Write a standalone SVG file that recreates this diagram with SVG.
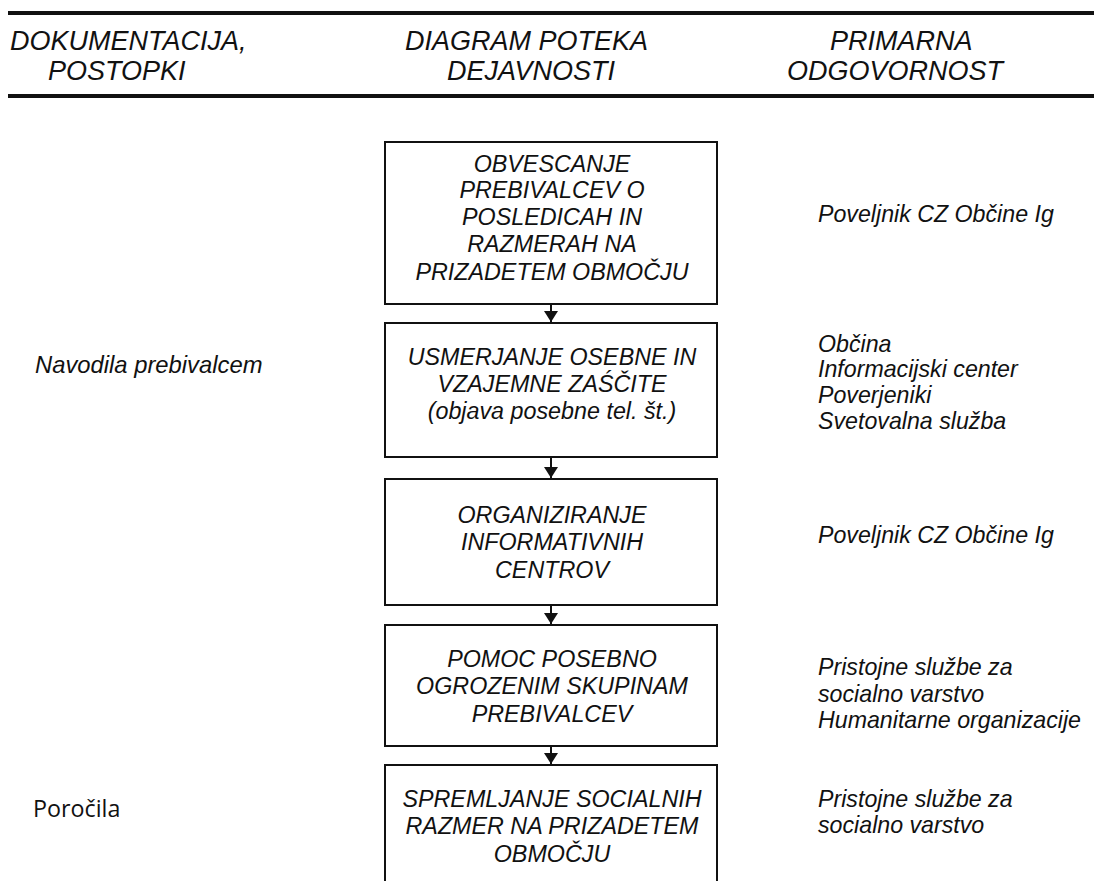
<svg xmlns="http://www.w3.org/2000/svg" width="1094" height="881" viewBox="0 0 1094 881">
  <style>
    .hdr { font-family: "Liberation Sans", Arial, sans-serif; font-style: italic; font-size: 27px; fill: #111; }
    .box { fill: #fff; stroke: #111; stroke-width: 2; }
    .bt { font-family: "Liberation Sans", Arial, sans-serif; font-style: italic; font-size: 23.3px; fill: #111; text-anchor: middle; }
    .side { font-family: "Liberation Sans", Arial, sans-serif; font-style: italic; font-size: 23.2px; fill: #111; }
    .left { font-family: "Liberation Sans", Arial, sans-serif; font-style: italic; font-size: 23.8px; fill: #111; }
    .plain { font-family: "Open Sans", "Liberation Sans", sans-serif; font-size: 23.3px; fill: #111; }
    .conn { stroke: #111; stroke-width: 2; fill: none; }
    .rule { stroke: #111; stroke-width: 4; }
  </style>
  <defs>
    <marker id="arr" markerWidth="12" markerHeight="14" refX="11" refY="7" orient="auto" markerUnits="userSpaceOnUse">
      <path d="M0,0 L11,7 L0,14 Z" fill="#111"/>
    </marker>
  </defs>
  <rect width="1094" height="881" fill="#fff"/>

  <g id="header">
    <line class="rule" x1="8" y1="13" x2="1094" y2="13"/>
    <line class="rule" x1="8" y1="96" x2="1094" y2="96"/>
    <text class="hdr" x="10" y="50">DOKUMENTACIJA,</text>
    <text class="hdr" x="48" y="80">POSTOPKI</text>
    <text class="hdr" x="405" y="50">DIAGRAM POTEKA</text>
    <text class="hdr" x="447" y="80">DEJAVNOSTI</text>
    <text class="hdr" x="830" y="50">PRIMARNA</text>
    <text class="hdr" x="787" y="80">ODGOVORNOST</text>
  </g>

  <g id="connectors">
    <line class="conn" x1="551" y1="305" x2="551" y2="322" marker-end="url(#arr)"/>
    <line class="conn" x1="551" y1="457" x2="551" y2="478" marker-end="url(#arr)"/>
    <line class="conn" x1="551" y1="605" x2="551" y2="624" marker-end="url(#arr)"/>
    <line class="conn" x1="551" y1="746" x2="551" y2="764" marker-end="url(#arr)"/>
  </g>

  <g id="node1">
    <rect class="box" x="385" y="142" width="332" height="162"/>
    <text class="bt" x="552" y="172">OBVESCANJE</text>
    <text class="bt" x="552" y="198">PREBIVALCEV O</text>
    <text class="bt" x="552" y="225">POSLEDICAH IN</text>
    <text class="bt" x="552" y="252">RAZMERAH NA</text>
    <text class="bt" x="552" y="280">PRIZADETEM OBMOČJU</text>
  </g>

  <g id="node2">
    <rect class="box" x="385" y="323" width="332" height="134"/>
    <text class="bt" x="552" y="365">USMERJANJE OSEBNE IN</text>
    <text class="bt" x="552" y="392">VZAJEMNE ZAŚČITE</text>
    <text class="bt" x="552" y="419">(objava posebne tel. št.)</text>
  </g>

  <g id="node3">
    <rect class="box" x="385" y="479" width="332" height="126"/>
    <text class="bt" x="552" y="523">ORGANIZIRANJE</text>
    <text class="bt" x="552" y="550">INFORMATIVNIH</text>
    <text class="bt" x="552" y="578">CENTROV</text>
  </g>

  <g id="node4">
    <rect class="box" x="385" y="625" width="332" height="121"/>
    <text class="bt" x="552" y="667">POMOC POSEBNO</text>
    <text class="bt" x="552" y="694">OGROZENIM SKUPINAM</text>
    <text class="bt" x="552" y="722">PREBIVALCEV</text>
  </g>

  <g id="node5">
    <rect class="box" x="385" y="765" width="332" height="130"/>
    <text class="bt" x="552" y="807">SPREMLJANJE SOCIALNIH</text>
    <text class="bt" x="552" y="834">RAZMER NA PRIZADETEM</text>
    <text class="bt" x="552" y="862">OBMOČJU</text>
  </g>

  <g id="left-column">
    <text class="left" x="35" y="373">Navodila prebivalcem</text>
    <text class="plain" x="33" y="817">Poročila</text>
  </g>

  <g id="right-column">
    <text class="side" x="818" y="222">Poveljnik CZ Občine Ig</text>
    <text class="side" x="818" y="352">Občina</text>
    <text class="side" x="818" y="377">Informacijski center</text>
    <text class="side" x="818" y="403">Poverjeniki</text>
    <text class="side" x="818" y="429">Svetovalna služba</text>
    <text class="side" x="818" y="543">Poveljnik CZ Občine Ig</text>
    <text class="side" x="818" y="675">Pristojne službe za</text>
    <text class="side" x="818" y="702">socialno varstvo</text>
    <text class="side" x="818" y="728">Humanitarne organizacije</text>
    <text class="side" x="818" y="807">Pristojne službe za</text>
    <text class="side" x="818" y="833">socialno varstvo</text>
  </g>
</svg>
